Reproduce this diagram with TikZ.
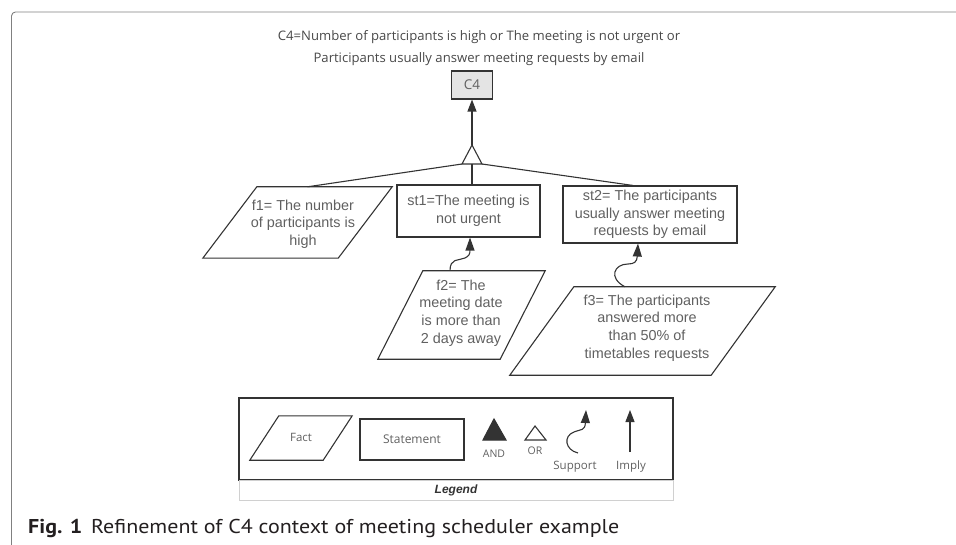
\documentclass[tikz,border=0pt]{standalone}
\usepackage{fontspec}
\setmainfont{Liberation Sans}
\newfontfamily\headfont{Open Sans}
\newfontfamily\capfont{PT Sans}
\usetikzlibrary{arrows.meta,calc}

\definecolor{ink}{HTML}{333333}
\definecolor{nodetext}{HTML}{606060}
\definecolor{headtext}{HTML}{484848}
\definecolor{framegrey}{HTML}{808080}
\definecolor{goalfill}{HTML}{E4E4E4}
\definecolor{barline}{HTML}{D0D0D0}
\definecolor{captext}{HTML}{231F20}

\tikzset{
  shapeline/.style={draw=ink, line width=1.1pt, line join=miter},
  boxtext/.style={text=nodetext, font=\fontsize{14.4}{17.6}\selectfont, align=center, inner sep=0pt},
  stmt/.style={boxtext, shapeline, rectangle},
  fact/.style={boxtext, rectangle, draw=none},
  goal/.style={shapeline, fill=goalfill, text=nodetext, font=\headfont\fontsize{13.5}{15}\selectfont, inner sep=0pt},
  implyarrow/.style={ink, line width=1.1pt, -{Triangle[length=12pt,width=9pt]}},
  supportarrow/.style={ink, line width=1.1pt, -{Triangle[length=13pt,width=9pt]}},
  legendtext/.style={text=nodetext, font=\headfont\fontsize{11.5}{13}\selectfont, inner sep=0pt},
}

% parallelogram drawn round a fact node: #1 node name, #2 horizontal slant
\newcommand{\factoutline}[2]{%
  \draw[shapeline] ([xshift=#2]#1.north west) -- (#1.north east)
    -- ([xshift=-#2]#1.south east) -- (#1.south west) -- cycle;}

\begin{document}
\begin{tikzpicture}[x=1pt,y=-1pt]
\useasboundingbox (0,0) rectangle (956,545);

% page frame
\draw[framegrey, line width=0.9pt, rounded corners=4pt] (11.5,545) -- (11.5,12) -- (956,12);

% heading
\node[text=headtext, font=\headfont\fontsize{13.1}{22}\selectfont, align=center] (heading) at (479,48)
  {C4=Number of participants is high or The meeting is not urgent or\\
   Participants usually answer meeting requests by email};

% context goal
\node[goal, minimum width=41pt, minimum height=28pt] (c4) at (472,85) {C4};

% OR refinement
\coordinate (orapex) at (472,145);
\coordinate (orleft) at (462,164);
\coordinate (orright) at (482,164);
\coordinate (ormid) at (472,164);
\draw[shapeline, fill=white] (orapex) -- (orright) -- (orleft) -- cycle;
\draw[implyarrow] (orapex) -- (c4.south);

% statements
\node[stmt, minimum width=143pt, minimum height=52pt] (st1) at (468.5,211)
  {st1=The meeting is\\not urgent};
\node[stmt, minimum width=174pt, minimum height=57pt] (st2) at (650,214.5)
  {st2= The participants\\usually answer meeting\\requests by email};

% facts
\node[fact, minimum width=189pt, minimum height=71pt] (f1) at (297.5,222.5) {};
\factoutline{f1}{54pt}
\node[boxtext] (f1text) at (303,224) {f1= The number\\of participants is\\high};

\node[fact, minimum width=167pt, minimum height=88pt] (f2) at (461.5,315) {};
\factoutline{f2}{45pt}
\node[boxtext] (f2text) at (461,313) {f2= The\\meeting date\\is more than\\2 days away};

\node[fact, minimum width=265pt, minimum height=88pt] (f3) at (642.5,331) {};
\factoutline{f3}{64pt}
\node[boxtext] (f3text) at (647,328) {f3= The participants\\answered more\\than 50\% of\\timetables requests};

% OR branches
\draw[shapeline] (orleft) -- ([xshift=10pt]f1.north);
\draw[shapeline] (ormid) -- (st1.north -| ormid);
\draw[shapeline] (orright) -- ([xshift=-17pt]st2.north);

% support links
\draw[supportarrow] ([xshift=-11.5pt]f2.north) .. controls +(0,-13) and (458,261) .. (465,258)
  .. controls (469,256) and (470,254) .. ([xshift=1.5pt]st1.south);
\draw[supportarrow] ([xshift=-17.5pt]f3.north) .. controls (608,278) and (614,264) .. (628,264)
  .. controls (634,264) and (637,262) .. ([xshift=-12pt]st2.south);

% legend
\node[draw=ink, line width=1.1pt, minimum width=434pt, minimum height=82pt, inner sep=0pt] (legend) at (456,439) {};
\node[draw=barline, line width=0.8pt, minimum width=434pt, minimum height=20pt, inner sep=0pt,
      text=ink, font=\bfseries\itshape\fontsize{12}{14}\selectfont] (legendbar) at (456,490.5) {Legend};

\node[fact, minimum width=102pt, minimum height=44pt] (lfact) at (301,438) {};
\factoutline{lfact}{29pt}
\node[legendtext] (lfacttext) at (301,437) {Fact};

\node[shapeline, rectangle, minimum width=104pt, minimum height=41pt, inner sep=0pt,
      text=nodetext, font=\headfont\fontsize{12}{14}\selectfont] (lstmt) at (412,439.5) {Statement};

\coordinate (andapex) at (494,419);
\coordinate (andleft) at (483,440);
\coordinate (andright) at (506,440);
\draw[ink, fill=ink, line width=1.1pt, line join=miter] (andapex) -- (andright) -- (andleft) -- cycle;
\node[legendtext, font=\headfont\fontsize{10.5}{12}\selectfont] (landtext) at (494,454) {AND};

\coordinate (lorapex) at (535,426);
\coordinate (lorleft) at (525,440);
\coordinate (lorright) at (546,440);
\draw[shapeline] (lorapex) -- (lorright) -- (lorleft) -- cycle;
\node[legendtext, font=\headfont\fontsize{10.5}{12}\selectfont] (lortext) at (535,451) {OR};

\coordinate (lsupfrom) at (578,453);
\coordinate (lsupto) at (586,410);
\draw[supportarrow] (lsupfrom) .. controls (565,450) and (563,436) .. (574,432)
  .. controls (581,429) and (585,431) .. (lsupto);
\node[legendtext] (lsuptext) at (575,467) {Support};

\coordinate (limplyfrom) at (630,452);
\coordinate (limplyto) at (630,410);
\draw[implyarrow] (limplyfrom) -- (limplyto);
\node[legendtext] (limplytext) at (631,467) {Imply};

% caption
\node[anchor=base west, inner sep=0pt, text=captext] (caption) at (28,533)
  {\capfont\fontsize{20}{22}\selectfont\scalebox{1.1}[1]{\textbf{Fig. 1}\hspace{8pt}Refinement of C4 context of meeting scheduler example}};
\end{tikzpicture}
\end{document}
